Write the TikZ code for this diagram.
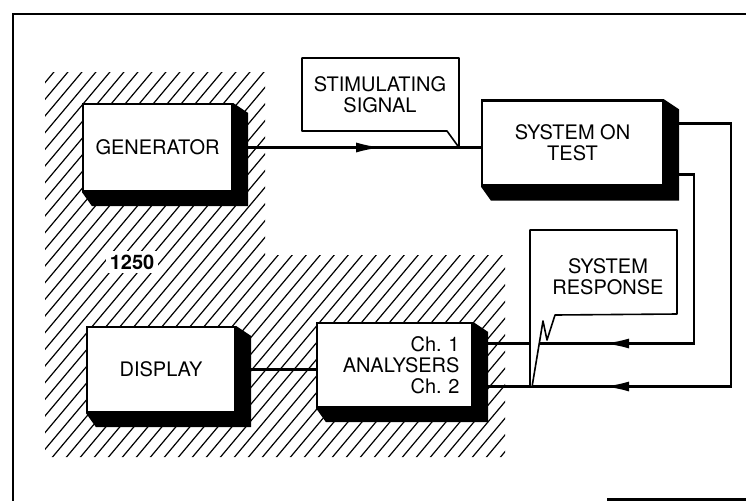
\documentclass[tikz,border=0pt]{standalone}
\usepackage{fontspec}
\setmainfont{TeX Gyre Heros}
\usetikzlibrary{arrows.meta,decorations.markings}
% black extruded side of a block
\newcommand{\blockshadow}[1]{%
  \fill (#1.north east) -- ([shift={(15,10)}]#1.north east)
     -- ([shift={(15,14)}]#1.south east) -- ([shift={(10,14)}]#1.south west)
     -- (#1.south west) -- (#1.south east) -- cycle;}

\begin{document}
\begin{tikzpicture}[x=1pt,y=-1pt,
   block/.style={draw,line width=2.2pt,fill=white,font=\fontsize{20}{21}\selectfont,align=center},
   wire/.style={line width=2.2pt},
   arrowat/.style={postaction={decorate},decoration={markings,
      mark=at position #1 with {\arrow{Latex[length=25pt,width=10pt]}}}},
   callout/.style={draw,line width=1.6pt,fill=white,line join=round},
   calltext/.style={font=\fontsize{20}{21}\selectfont,align=center},
   hatchline/.style={line width=1.2pt}]
   \useasboundingbox (0,0) rectangle (746,501);
   % frame
   \draw[line width=2.2pt] (746,14) -- (13,14) -- (13,501);
   \draw[line width=2.2pt] (607,499.5) -- (746,499.5);
   % hatched area of the 1250
   \begin{scope}
      \clip (45,72) -- (265,72) -- (265,255) -- (505,255) -- (505,457) -- (45,457) -- cycle;
      \foreach \i in {0,...,60}
         \draw[hatchline] ({-300+14*\i},460) -- ++(336,-400);
   \end{scope}
   \node[fill=white,inner sep=4pt,font=\fontsize{20}{21}\selectfont\bfseries] (num) at (132,262) {1250};
   % blocks
   \node[block,minimum width=149pt,minimum height=87pt] (gen) at (157.5,147.5) {GENERATOR};
   \node[block,minimum width=181pt,minimum height=85pt] (sot) at (572.5,143) {SYSTEM ON\\TEST};
   \node[block,minimum width=148pt,minimum height=85pt] (disp) at (161,369.5) {DISPLAY};
   \node[block,minimum width=155pt,minimum height=84pt,text width=130pt,align=right] (ana) at (394.5,365)
      {Ch.\ 1\\ANALYSERS\\Ch.\ 2};
   \blockshadow{gen}
   \blockshadow{sot}
   \blockshadow{disp}
   \blockshadow{ana}
   % connections
   \draw[wire,arrowat=148pt] (gen.east) -- (gen.east -| sot.west);
   \draw[wire] (disp.east) -- (disp.east -| ana.west);
   \draw[wire,arrowat=-116pt] ([shift={(15,-19.5)}]sot.east) -- ++(52,0) |- ([shift={(15,21.5)}]ana.east);
   \draw[wire,arrowat=-116pt] ([shift={(15,31.5)}]sot.east) -- ++(15,0) |- ([shift={(15,-21.5)}]ana.east);
   % callouts
   \draw[callout] (302,58) -- (459,58) -- (459,147.5) -- (447,131) -- (302,131) -- cycle;
   \node[calltext] (stim) at (380,95) {STIMULATING\\SIGNAL};
   \draw[callout] (530,230) -- (677,230) -- (677,314) -- (555,315) -- (547,340) -- (543,321)
      -- (532,387) -- (530,387) -- cycle;
   \node[calltext] (resp) at (608,277) {SYSTEM\\RESPONSE};
\end{tikzpicture}
\end{document}
